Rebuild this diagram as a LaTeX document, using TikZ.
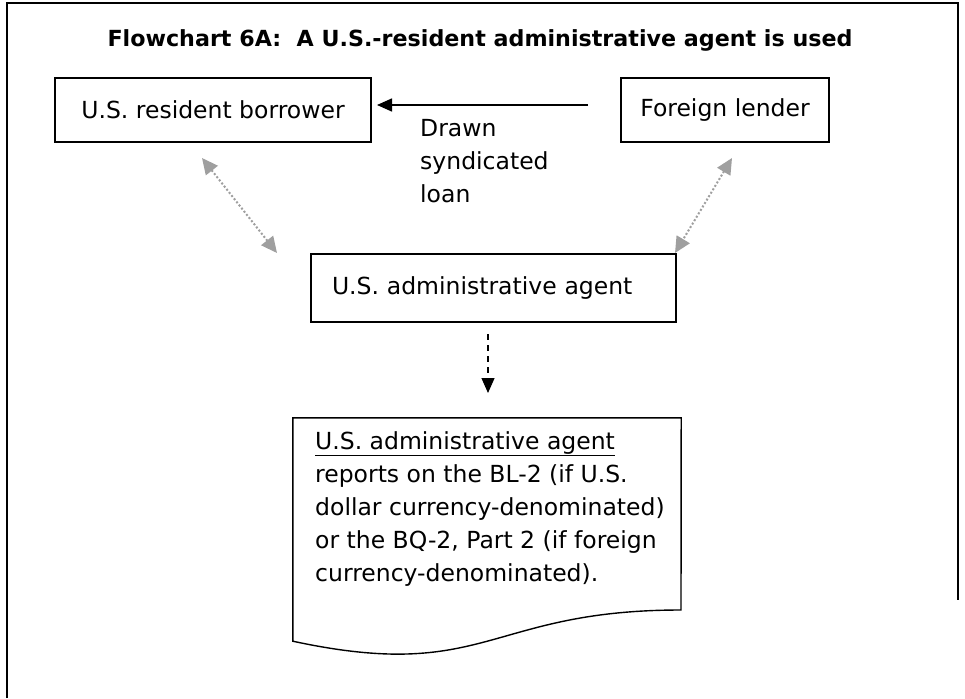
\documentclass[tikz,border=0pt]{standalone}
\usepackage{fontspec}
\setmainfont{DejaVu Sans}
\usetikzlibrary{arrows.meta}
\tikzset{
  box/.style={draw=black, line width=1.4pt, minimum width=#1, minimum height=64pt, inner sep=0pt},
  txt/.style={font=\fontsize{23.5}{33}\selectfont, inner sep=0pt},
  solidarrow/.style={line width=1.5pt, -{Triangle[length=15pt,width=13pt]}},
  dotarrow/.style={draw=gray!75, line width=2pt, dash pattern=on 2pt off 2pt,
     {Triangle[length=16pt,width=15pt]}-{Triangle[length=16pt,width=15pt]}},
  dasharrow/.style={line width=1.3pt, dash pattern=on 6pt off 5pt, -{Triangle[length=15pt,width=13pt]}},
}
\begin{document}
\begin{tikzpicture}[x=1pt,y=-1pt]
\useasboundingbox (0,0) rectangle (965,698);
% frame
\draw[line width=2pt] (7,698) -- (7,3) -- (958,3) -- (958,600);
% title
\node[font=\fontsize{22.2}{28}\selectfont\bfseries, anchor=base] (title) at (480,47) {Flowchart 6A:\ \ A U.S.-resident administrative agent is used};
% boxes
\node[box=316pt, txt] (borrower) at (213,110) {U.S. resident borrower};
\node[box=208pt, txt] (lender) at (725,110) {Foreign lender};
\node[box=365pt, minimum height=68pt, txt, text width=365pt, align=left, inner xsep=0pt] (agent) at (493.5,288) {\hspace*{21pt}U.S. administrative agent};
% document shape
\node[minimum width=388pt, minimum height=223pt, inner sep=0pt] (doc) at (487,529.5) {};
\draw[line width=1.4pt] (doc.north west) -- (doc.north east) -- (681,610)
  .. controls (487,610) and (487,683) .. (doc.south west) -- cycle;
\node[txt, anchor=north west, align=left] (doctext) at (315,431) {\underline{U.S. administrative agent}\\reports on the BL-2 (if U.S.\\dollar currency-denominated)\\or the BQ-2, Part 2 (if foreign\\currency-denominated).};
% loan arrow
\coordinate (a1) at (588,105);
\coordinate (a2) at (377,105);
\draw[solidarrow] (a1) -- (a2);
\node[txt, anchor=north west, align=left] (loan) at (420,119) {Drawn\\syndicated\\loan};
% dotted arrows
\coordinate (l1) at (202,158);
\coordinate (l2) at (277,253);
\coordinate (r1) at (732,158);
\coordinate (r2) at (675,253);
\draw[dotarrow] (l1) -- (l2);
\draw[dotarrow] (r1) -- (r2);
% dashed arrow
\coordinate (d1) at (488,334);
\coordinate (d2) at (488,393);
\draw[dasharrow] (d1) -- (d2);
\end{tikzpicture}
\end{document}
